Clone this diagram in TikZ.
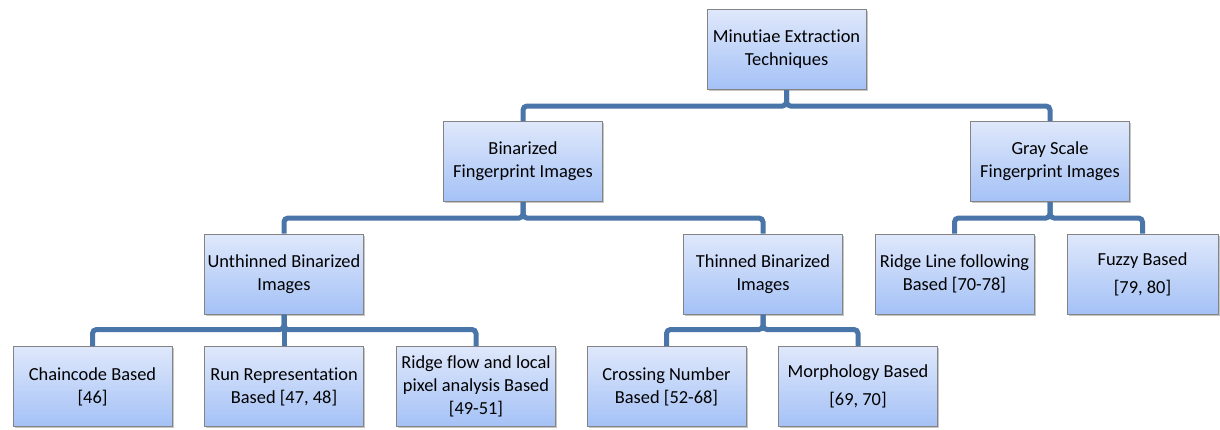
\documentclass[tikz,border=0pt]{standalone}
\usepackage{fontspec}
\setmainfont{Carlito}[Ligatures=NoCommon]
\usepackage{xcolor}
\definecolor{treeblue}{HTML}{4A75A8}
\definecolor{boxgray}{HTML}{848484}
\definecolor{boxtop}{HTML}{DFE8FB}
\definecolor{boxbottom}{HTML}{A4C1F6}
\usetikzlibrary{shadows}

\begin{document}
\begin{tikzpicture}[x=1pt, y=-1pt,
    box/.style={rectangle, draw=boxgray, line width=1pt,
                top color=boxtop, bottom color=boxbottom,
                minimum width=159pt, minimum height=80pt,
                inner sep=2pt, align=center,
                font=\fontsize{18.4}{23}\selectfont,
                drop shadow={shadow xshift=1.5pt, shadow yshift=-1.5pt,
                             opacity=0.45}},
    link/.style={treeblue, line width=5pt, rounded corners=4pt}
  ]
    \useasboundingbox (0,0) rectangle (1220,429);
    % Root (y=49.5)
    \node[box] (root) at (786.5, 49.5) {Minutiae Extraction\\Techniques};
    % Image types (y=161.5)
    \node[box] (bin)  at (523, 161.5) {Binarized\\Fingerprint Images};
    \node[box] (gray) at (1050, 161.5) {Gray Scale\\Fingerprint Images};
    % Binarized kinds and gray scale methods (y=274)
    \node[box] (unthin) at (284, 274) {Unthinned Binarized\\Images};
    \node[box] (thin)   at (763, 274) {Thinned Binarized\\Images};
    \node[box] (ridgeline) at (954.5, 274) {Ridge Line following\\Based [70-78]};
    \node[box, minimum width=151pt] (fuzzy) at (1142.5, 274)
      {Fuzzy Based\\[5pt][79, 80]};
    % Leaf methods (y=386.5)
    \node[box] (chain)  at (92.5, 386.5) {Chaincode Based\\{[46]}};
    \node[box] (run)    at (284, 386.5) {Run Representation\\Based [47, 48]};
    \node[box] (ridgeflow) at (476, 386.5)
      {Ridge flow and local\\pixel analysis Based\\{[49-51]}};
    \node[box] (cross)  at (666.5, 386.5) {Crossing Number\\Based [52-68]};
    \node[box] (morph)  at (858, 386.5) {Morphology Based\\[5pt][69, 70]};
    % Links: root -> image types
    \draw[link] (root.south) -- ++(0,16) -| (bin.north);
    \draw[link] (root.south) -- ++(0,16) -| (gray.north);
    % Links: binarized -> unthinned / thinned
    \draw[link] (bin.south) -- ++(0,16) -| (unthin.north);
    \draw[link] (bin.south) -- ++(0,16) -| (thin.north);
    % Links: gray scale -> methods
    \draw[link] (gray.south) -- ++(0,16) -| (ridgeline.north);
    \draw[link] (gray.south) -- ++(0,16) -| (fuzzy.north);
    % Links: unthinned -> leaves
    \draw[link] (unthin.south) -- ++(0,15) -| (chain.north);
    \draw[link] (unthin.south) -- (run.north);
    \draw[link] (unthin.south) -- ++(0,15) -| (ridgeflow.north);
    % Links: thinned -> leaves
    \draw[link] (thin.south) -- ++(0,15) -| (cross.north);
    \draw[link] (thin.south) -- ++(0,15) -| (morph.north);
  \end{tikzpicture}
\end{document}
